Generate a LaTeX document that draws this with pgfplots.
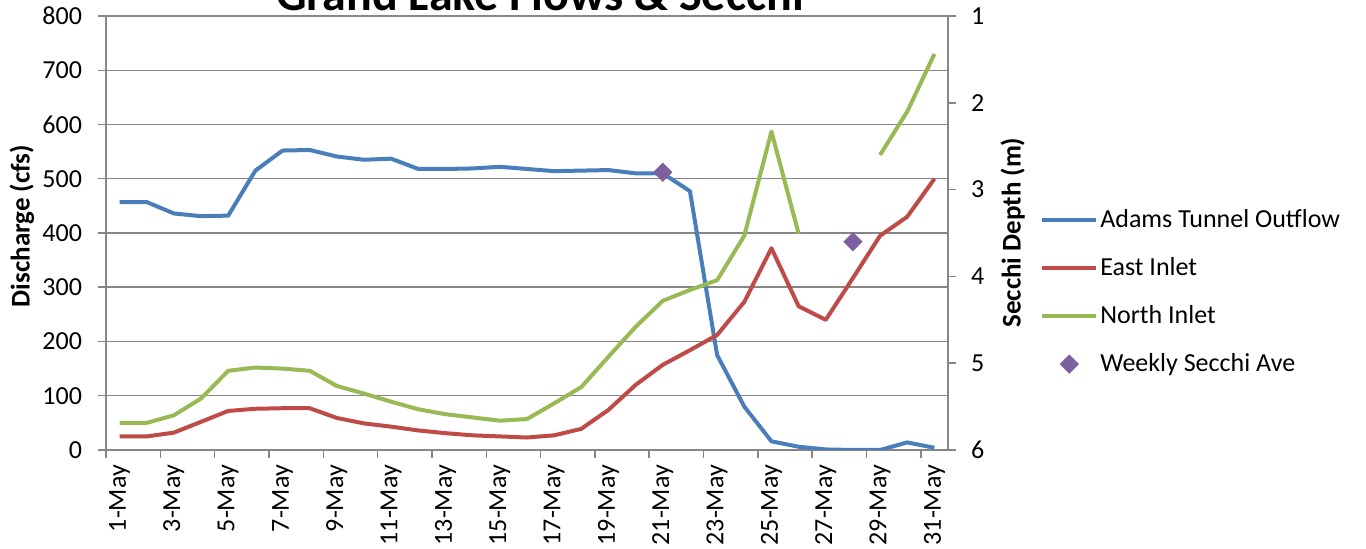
\documentclass[border=0pt]{standalone}
\usepackage{fontspec}
\setmainfont{Carlito}
\usepackage{pgfplots}
\pgfplotsset{compat=1.18}

\definecolor{adams}{HTML}{4A7EBB}
\definecolor{east}{HTML}{BE4B48}
\definecolor{north}{HTML}{98B954}
\definecolor{secchi}{HTML}{7D60A0}
\definecolor{axgray}{HTML}{868686}

% day, discharge (cfs); nan = no reading
\pgfplotstableread{
day adams east north
1  457 25  50
2  457 25  50
3  436 32  64
4  431 52  95
5  432 72  146
6  515 76  152
7  552 77  150
8  553 77  146
9  541 59  118
10 535 49  104
11 537 43  89
12 518 36  75
13 518 31  66
14 519 27  60
15 522 25  54
16 518 23  57
17 514 27  86
18 515 39  116
19 516 74  172
20 510 120 227
21 510 157 275
22 477 184 295
23 175 212 313
24 80  273 395
25 16  372 587
26 6   265 399
27 1   240 nan
28 0   317 nan
29 0   395 544
30 14  430 624
31 4   500 730
}\flows

\begin{document}
\begin{tikzpicture}
\pgfplotsset{
  every axis/.append style={
    at={(0pt,0pt)}, anchor=south west,
    scale only axis, width=421pt, height=217pt,
    xmin=0.5, xmax=31.5,
    tick align=outside, major tick length=4pt, minor tick length=4pt,
    tick style={axgray, line width=0.75pt},
    axis line style={-, axgray, line width=0.75pt},
    tick label style={font=\fontsize{13}{15}\selectfont},
    /pgf/number format/assume math mode=true,
  },
}
\begin{axis}[
  axis x line*=bottom, axis y line*=left,
  ymin=0, ymax=800, ytick={0,100,...,800},
  ymajorgrids, grid style={axgray, line width=0.75pt},
  yticklabel style={xshift=-4.5pt},
  xtick={1,3,...,31},
  xticklabels={1-May,3-May,5-May,7-May,9-May,11-May,13-May,15-May,17-May,19-May,21-May,23-May,25-May,27-May,29-May,31-May},
  major x tick style={draw=none},
  minor xtick={0.5,2.5,...,30.5},
  xticklabel style={rotate=90, anchor=east},
  every axis y label/.style={at={(axis description cs:-0.0998,0.516)}, rotate=90, anchor=center},
  ylabel={\bfseries\fontsize{13.5}{16}\selectfont Discharge (cfs)},
  unbounded coords=jump,
  every axis plot/.append style={line width=2pt, line join=round, mark=none},
]
\addplot[adams] table[x=day, y=adams] {\flows};
\addplot[east]  table[x=day, y=east]  {\flows};
\addplot[north] table[x=day, y=north] {\flows};
\end{axis}

\begin{axis}[
  axis x line=none, axis y line*=right,
  ymin=1, ymax=6, y dir=reverse, ytick={1,...,6},
  yticklabel style={xshift=4pt},
  every axis y label/.style={at={(axis description cs:1.077,0.501)}, rotate=90, anchor=center},
  ylabel={\bfseries\fontsize{13.5}{16}\selectfont Secchi Depth (m)},
  legend style={at={(axis description cs:1.102,0.364)}, anchor=west,
    draw=none, fill=none, font=\fontsize{13}{15}\selectfont, row sep=13.5pt,
    nodes={inner xsep=1pt, inner ysep=0pt}},
  legend cell align=left,
  legend image code/.code={\draw[mark repeat=2,mark phase=2,#1] plot coordinates {(0pt,0pt) (13.5pt,0pt) (27pt,0pt)};},
]
\addlegendimage{adams, line width=2pt}
\addlegendentry{Adams Tunnel Outflow}
\addlegendimage{east, line width=2pt}
\addlegendentry{East Inlet}
\addlegendimage{north, line width=2pt}
\addlegendentry{North Inlet}
\addplot[only marks, mark=square*, mark size=3.2pt,
  mark options={rotate=45, fill=secchi, draw=secchi}]
  coordinates {(21,2.8) (28,3.6)};
\addlegendentry{Weekly Secchi Ave}
\end{axis}

\node[anchor=base, font=\bfseries\fontsize{24}{28}\selectfont] at (217pt,219.75pt) {Grand Lake Flows \& Secchi};

\pgfresetboundingbox
\useasboundingbox (-53pt,-49.5pt) rectangle (630pt,225pt);
\end{tikzpicture}
\end{document}
